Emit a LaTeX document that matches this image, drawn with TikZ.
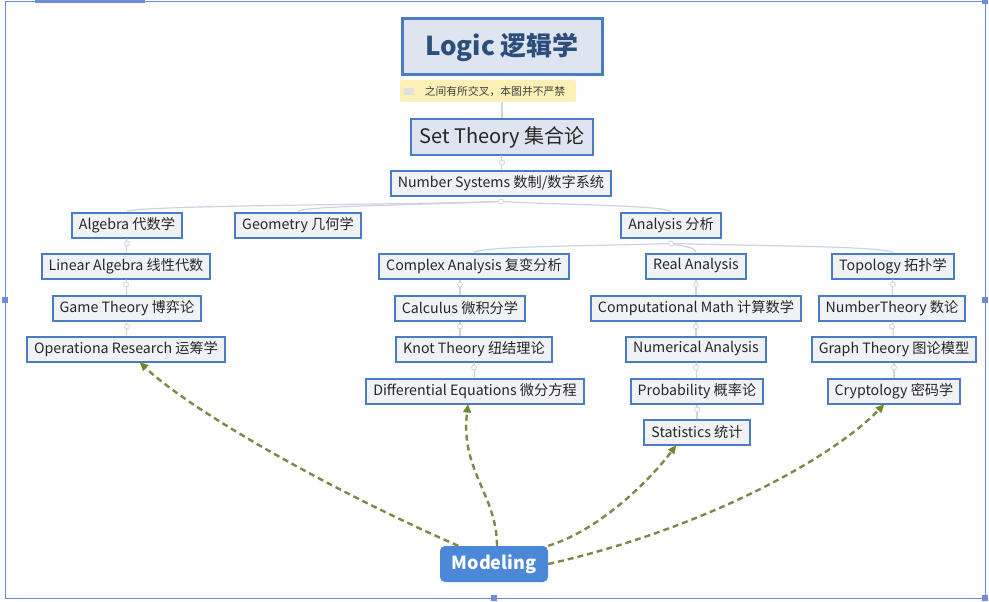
\documentclass[tikz,border=0pt]{standalone}
\usepackage{fontspec}
\setmainfont{Noto Sans CJK SC}
\usetikzlibrary{arrows.meta}
\definecolor{boxblue}{RGB}{74,124,196}
\definecolor{boxgray}{RGB}{241,242,245}
\definecolor{topfill}{RGB}{222,229,240}
\definecolor{linkgray}{RGB}{204,211,226}
\definecolor{modolive}{RGB}{130,134,72}
\definecolor{tipgreen}{RGB}{108,138,42}
\definecolor{notefill}{RGB}{252,240,182}
\definecolor{modfill}{RGB}{76,136,216}
\definecolor{framecol}{RGB}{112,140,214}
\definecolor{logictext}{RGB}{44,78,124}
\begin{document}
\begin{tikzpicture}[x=1pt, y=-1pt,
  topic/.style={draw=boxblue, line width=2pt, fill=boxgray, inner xsep=7pt, inner ysep=0pt,
    minimum height=25pt, text=black!85, font=\fontsize{14.2}{16}\selectfont},
  link/.style={draw=linkgray, line width=1.2pt},
  knob/.style={draw=linkgray, fill=white, line width=0.8pt},
  modlink/.style={draw=modolive, line width=2.4pt, dash pattern=on 6pt off 4pt,
    -{Triangle[length=8pt, width=8pt, fill=tipgreen, color=tipgreen, line width=0.1pt]}}]
\useasboundingbox (0,0) rectangle (989,602);
\fill[white] (0,0) rectangle (989,602);
\draw[framecol, line width=0.8pt] (5,1) rectangle (985,598);
\fill[framecol] (35,0) rectangle (145,3);
\fill[framecol] (2,297) rectangle (8,303);
\fill[framecol] (982,297) rectangle (988,303);
\fill[framecol] (982,0) rectangle (988,4);
\fill[framecol] (982,595) rectangle (988,601);
\fill[framecol] (491,595) rectangle (497,601);

\node[draw=boxblue, line width=3pt, fill=topfill, minimum width=200pt, minimum height=56pt,
  text=logictext, font=\fontsize{26}{30}\selectfont\bfseries] (logic) at (502,47) {Logic 逻辑学};
\node[fill=notefill, rounded corners=2pt, minimum width=176pt, minimum height=22pt, inner sep=0pt,
  text=black!75, font=\fontsize{10.8}{12}\selectfont] (note) at (488,91) {\hspace{14pt}之间有所交叉，本图并不严禁};
\fill[black!12] (404,88) rectangle (414,95);
\node[topic, fill=topfill, minimum height=35pt, inner xsep=8pt, font=\fontsize{20}{23}\selectfont] (set) at (502,137) {Set Theory 集合论};
\node[topic] (ns) at (501,183) {Number Systems 数制/数字系统};

\node[topic] (alg) at (127,225) {Algebra 代数学};
\node[topic] (geo) at (298,225) {Geometry 几何学};
\node[topic] (ana) at (671,225) {Analysis 分析};

\node[topic] (lin) at (126,266) {Linear Algebra 线性代数};
\node[topic] (game) at (127,308) {Game Theory 博弈论};
\node[topic] (or) at (126,349) {Operationa Research 运筹学};

\node[topic] (cplx) at (474,266) {Complex Analysis 复变分析};
\node[topic] (calc) at (460,308) {Calculus 微积分学};
\node[topic] (knot) at (474,349) {Knot Theory 纽结理论};
\node[topic] (diff) at (475,391) {Differential Equations 微分方程};

\node[topic] (real) at (696,266) {Real Analysis};
\node[topic] (comp) at (696,308) {Computational Math 计算数学};
\node[topic] (num) at (696,349) {Numerical Analysis};
\node[topic] (prob) at (697,391) {Probability 概率论};
\node[topic] (stat) at (697,432) {Statistics 统计};

\node[topic] (topo) at (893,266) {Topology 拓扑学};
\node[topic] (nt) at (892,308) {NumberTheory 数论};
\node[topic] (graph) at (894,349) {Graph Theory 图论模型};
\node[topic] (crypt) at (894,391) {Cryptology 密码学};

\node[fill=modfill, rounded corners=5pt, minimum width=108pt, minimum height=36pt,
  text=white, font=\fontsize{18}{21}\selectfont\bfseries] (mod) at (494,564) {Modeling};

\draw[link] (note.south -| set) -- (set);
\draw[link] (set) -- (ns);
\draw[link] ([yshift=-5pt]ns.south) .. controls (400,205) and (140,205) .. (alg.north);
\draw[link] ([yshift=-5pt]ns.south) .. controls (420,205) and (300,206) .. (geo.north);
\draw[link] ([yshift=-5pt]ns.south) .. controls (560,205) and (660,205) .. (ana.north);
\draw[link] ([yshift=-5pt]ana.south) .. controls (600,246) and (480,246) .. (cplx.north);
\draw[link] ([yshift=-5pt]ana.south) .. controls (680,246) and (696,247) .. (real.north);
\draw[link] ([yshift=-5pt]ana.south) .. controls (760,246) and (880,246) .. (topo.north);
\draw[link] (alg) -- (lin);
\draw[link] (lin) -- (game);
\draw[link] (game) -- (or);
\draw[link] (cplx.south -| calc) -- (calc);
\draw[link] (calc) -- (knot.north -| calc);
\draw[link] (knot) -- (diff);
\draw[link] (real) -- (comp);
\draw[link] (comp) -- (num);
\draw[link] (num) -- (prob);
\draw[link] (prob) -- (stat);
\draw[link] (topo) -- (nt);
\draw[link] (nt) -- (graph);
\draw[link] (graph) -- (crypt);
\draw[knob] ([yshift=-7pt]set.south) circle (2.5pt);
\draw[knob] ([yshift=-5pt]ns.south) circle (2.5pt);
\draw[knob] ([yshift=-5pt]ana.south) circle (2.5pt);
\draw[knob] ([yshift=-5pt]alg.south) circle (2.5pt);
\draw[knob] ([yshift=-5pt]lin.south) circle (2.5pt);
\draw[knob] ([yshift=-5pt]game.south) circle (2.5pt);
\draw[knob] ([yshift=-5pt]cplx.south -| calc) circle (2.5pt);
\draw[knob] ([yshift=-5pt]calc.south) circle (2.5pt);
\draw[knob] ([yshift=-5pt]knot.south) circle (2.5pt);
\draw[knob] ([yshift=-5pt]real.south) circle (2.5pt);
\draw[knob] ([yshift=-5pt]comp.south) circle (2.5pt);
\draw[knob] ([yshift=-5pt]num.south) circle (2.5pt);
\draw[knob] ([yshift=-5pt]prob.south) circle (2.5pt);
\draw[knob] ([yshift=-5pt]topo.south) circle (2.5pt);
\draw[knob] ([yshift=-5pt]nt.south) circle (2.5pt);
\draw[knob] ([yshift=-5pt]graph.south) circle (2.5pt);

\draw[modlink] (mod.153) .. controls (330,490) and (190,410) .. ([xshift=14pt]or.south);
\draw[modlink] ([xshift=3pt]mod.north) .. controls (497,495) and (460,470) .. ([xshift=-7pt]diff.south);
\draw[modlink] (mod.north east) .. controls (600,530) and (650,480) .. ([xshift=-21pt]stat.south);
\draw[modlink] (mod.east) .. controls (700,530) and (830,460) .. ([xshift=-10pt]crypt.south);
\end{tikzpicture}
\end{document}
